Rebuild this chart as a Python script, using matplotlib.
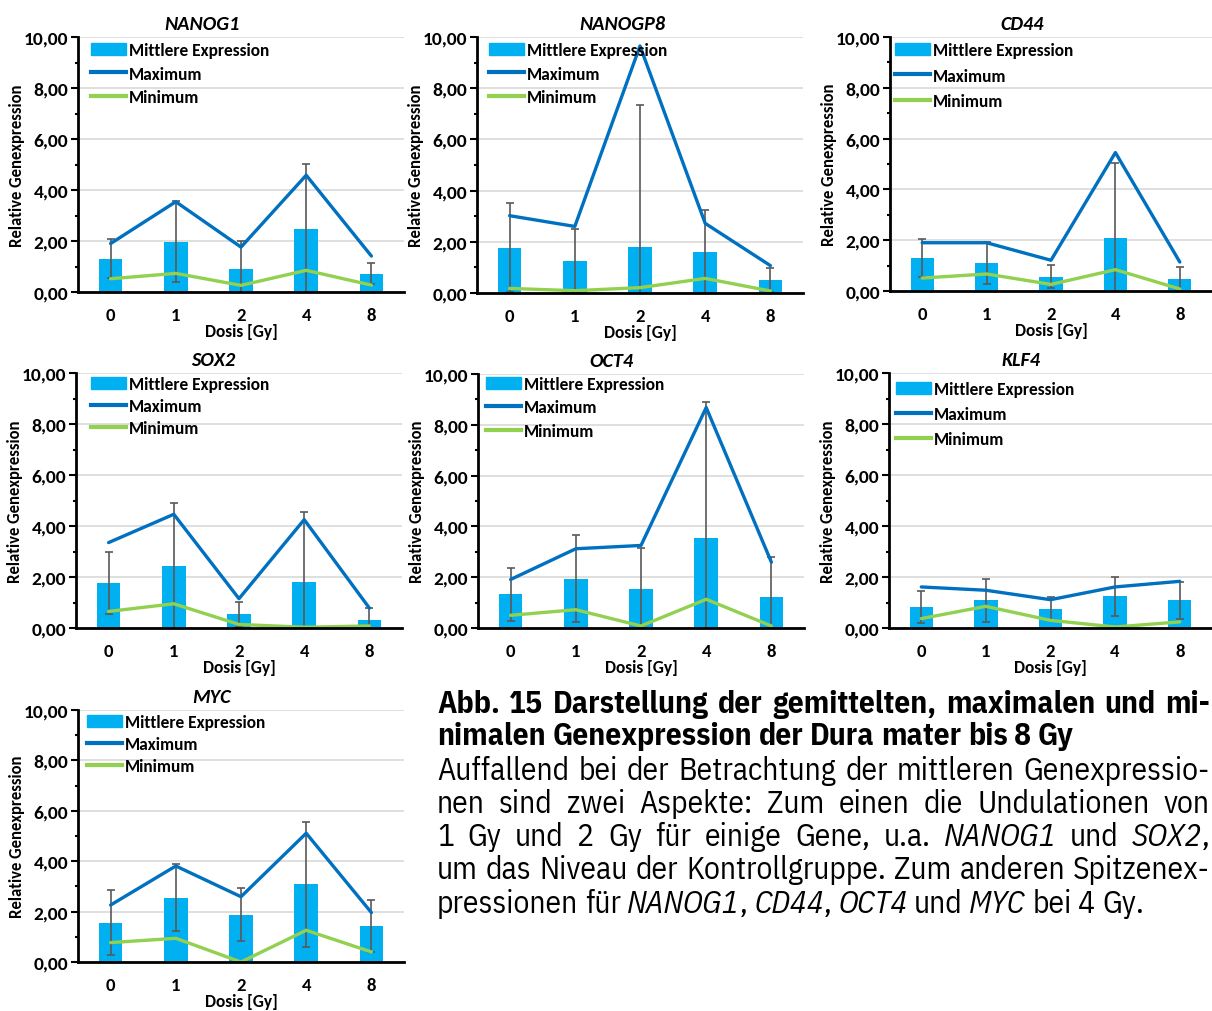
import numpy as np
import matplotlib.pyplot as plt
from matplotlib import font_manager as fm
from matplotlib.ticker import MultipleLocator, FuncFormatter
from matplotlib.patches import Patch
from matplotlib.lines import Line2D

doses = ['0', '1', '2', '4', '8']
genes = ['NANOG1', 'NANOGP8', 'CD44', 'SOX2', 'OCT4', 'KLF4', 'MYC']

# one row per gene, columns = doses
mean_expr = [
    [1.31, 1.97, 0.92, 2.46, 0.72],
    [1.76, 1.25, 1.79, 1.59, 0.49],
    [1.30, 1.10, 0.56, 2.10, 0.46],
    [1.76, 2.43, 0.54, 1.80, 0.33],
    [1.32, 1.94, 1.52, 3.56, 1.22],
    [0.82, 1.08, 0.76, 1.25, 1.08],
    [1.56, 2.55, 1.88, 3.08, 1.43],
]
sd_expr = [
    [0.76, 1.58, 1.08, 2.57, 0.41],
    [1.74, 1.25, 5.54, 1.65, 0.47],
    [0.76, 0.81, 0.45, 2.94, 0.50],
    [1.22, 2.46, 0.49, 2.75, 0.45],
    [1.05, 1.72, 1.62, 5.34, 1.58],
    [0.62, 0.85, 0.44, 0.76, 0.71],
    [1.28, 1.33, 1.04, 2.48, 1.03],
]
max_expr = [
    [1.90, 3.54, 1.76, 4.58, 1.41],
    [3.02, 2.60, 9.65, 2.72, 1.07],
    [1.90, 1.90, 1.21, 5.45, 1.14],
    [3.35, 4.46, 1.15, 4.25, 0.78],
    [1.91, 3.12, 3.25, 8.68, 2.59],
    [1.61, 1.48, 1.11, 1.61, 1.83],
    [2.26, 3.81, 2.59, 5.11, 1.96],
]
min_expr = [
    [0.52, 0.73, 0.26, 0.85, 0.27],
    [0.18, 0.09, 0.21, 0.57, 0.08],
    [0.51, 0.67, 0.26, 0.84, 0.08],
    [0.65, 0.95, 0.14, 0.03, 0.08],
    [0.50, 0.72, 0.08, 1.13, 0.08],
    [0.37, 0.85, 0.30, 0.04, 0.24],
    [0.77, 0.94, 0.00, 1.26, 0.40],
]

caption_head = [
    "Abb. 15 Darstellung der gemittelten, maximalen und mi-",
    "nimalen Genexpression der Dura mater bis 8 Gy",
]
caption_body = [
    "Auffallend bei der Betrachtung der mittleren Genexpressio-",
    "nen sind zwei Aspekte: Zum einen die Undulationen von",
    "1 Gy und 2 Gy für einige Gene, u.a. *NANOG1* und *SOX2*,",
    "um das Niveau der Kontrollgruppe. Zum anderen Spitzenex-",
    "pressionen für *NANOG1*, *CD44*, *OCT4* und *MYC* bei 4 Gy.",
]


# --- font choice: use what is installed ---
def faces(name):
    out = set()
    for f in fm.fontManager.ttflist:
        if f.name == name:
            w = f.weight if isinstance(f.weight, int) else fm.weight_dict.get(f.weight, 400)
            out.add((w >= 600, f.style == 'italic'))
    return out


def pick(cands, need):
    for c in cands:
        if set(need) <= faces(c):
            return c
    return None


chart_font = (pick(['Carlito', 'Calibri', 'Lato', 'Open Sans', 'Noto Sans'], [(True, False), (True, True)])
              or 'DejaVu Sans')
cap_font = (pick(['Liberation Sans Narrow', 'Arial Narrow', 'Archivo Narrow', 'IBM Plex Sans Condensed',
                  'Roboto Condensed'], [(False, False), (True, False), (False, True)])
            or pick(['PT Sans Narrow', 'Pragati Narrow'], [(False, False), (True, False)])
            or 'Liberation Sans')

plt.rcParams['font.family'] = [chart_font, 'DejaVu Sans']
plt.rcParams['font.weight'] = 'bold'
plt.rcParams['axes.labelweight'] = 'bold'

W, H = 1212, 1012
fig = plt.figure(figsize=(W / 100, H / 100), dpi=100)
renderer = fig.canvas.get_renderer()

# axes boxes in pixels: left, top, right, bottom
boxes = [(78, 38, 404, 293), (477, 38, 803, 294), (890, 38, 1212, 292),
         (76, 374, 402, 629), (478, 375, 804, 629), (889, 374, 1212, 629),
         (78, 711, 404, 963)]
title_x = [0.38, 0.445, 0.41, 0.42, 0.41, 0.41, 0.41]
leg_dx = [13, 12, 5, 15, 8, 7, 9]
leg_first = [51, 51, 51, 385, 385, 390, 723]
leg_pitch = [23.5, 23.5, 25.5, 22, 23.5, 25, 22]

c_bar, c_max, c_min, c_err = '#00B0F0', '#0070C0', '#92D050', '#595959'
leg_fs = 12.5
leg_px = leg_fs * 100 / 72
probe = fig.text(0, 0, 'Mittlere Expression', fontsize=leg_fs)
row_h = probe.get_window_extent(renderer).height
probe.remove()

for i, g in enumerate(genes):
    l, t, r, b = boxes[i]
    axw, axh = r - l, b - t
    ax = fig.add_axes([l / W, 1 - b / H, axw / W, axh / H])
    x = np.arange(len(doses))
    ax.bar(x, mean_expr[i], width=0.36, color=c_bar, zorder=2)
    ax.errorbar(x, mean_expr[i], yerr=sd_expr[i], fmt='none', ecolor=c_err,
                elinewidth=1.2, capsize=3, capthick=1.2, zorder=3)
    ax.plot(x, max_expr[i], color=c_max, lw=2.4, zorder=4,
            solid_joinstyle='round', solid_capstyle='round')
    ax.plot(x, min_expr[i], color=c_min, lw=2.4, zorder=4,
            solid_joinstyle='round', solid_capstyle='round')

    ax.set_xlim(-0.5, 4.5)
    ax.set_ylim(0, 10)
    ax.set_xticks(x)
    ax.set_xticklabels(doses)
    ax.yaxis.set_major_locator(MultipleLocator(2))
    ax.yaxis.set_minor_locator(MultipleLocator(1))
    ax.yaxis.set_major_formatter(FuncFormatter(lambda v, p: f"{v:.2f}".replace('.', ',')))
    ax.tick_params(axis='x', length=0, pad=11, labelsize=13.5)
    ax.tick_params(axis='y', which='major', length=5, width=1.5, pad=2, labelsize=14)
    ax.tick_params(axis='y', which='minor', length=2.5, width=1.5)
    ax.grid(axis='y', color='#D9D9D9', lw=1.2, zorder=0)
    ax.set_axisbelow(True)
    for s in ['top', 'right']:
        ax.spines[s].set_visible(False)
    for s in ['left', 'bottom']:
        ax.spines[s].set_linewidth(2)
        ax.spines[s].set_zorder(5)

    ax.set_title(g, fontsize=14.5, fontweight='bold', fontstyle='italic', x=title_x[i], pad=6)
    ax.set_xlabel('Dosis [Gy]', fontsize=12.5)
    ax.set_ylabel('Relative Genexpression', fontsize=12)
    ax.xaxis.set_label_coords(0.5, -31 / axh)
    ax.yaxis.set_label_coords(-53 / axw, 0.5)

    handles = [Patch(color=c_bar), Line2D([], [], color=c_max, lw=3),
               Line2D([], [], color=c_min, lw=3)]
    top_px = leg_first[i] - row_h / 2 - t
    ax.legend(handles, ['Mittlere Expression', 'Maximum', 'Minimum'],
              loc='upper left', bbox_to_anchor=(leg_dx[i] / axw, 1 - top_px / axh),
              frameon=False, fontsize=leg_fs, handlelength=2.0, handletextpad=0.2,
              labelspacing=(leg_pitch[i] - row_h) / leg_px, borderpad=0, borderaxespad=0)

# caption text with justified lines
X0, X1 = 437, 1210


def seg_width(s, size, weight, style):
    tt = fig.text(0, 0, s, fontsize=size, family=cap_font, fontweight=weight, fontstyle=style)
    w = tt.get_window_extent(renderer).width
    tt.remove()
    return w


def split_words(line):
    words = []
    for wd in line.split(' '):
        parts = wd.split('*')
        words.append([(p, 'italic' if k % 2 else 'normal') for k, p in enumerate(parts) if p])
    return words


def natural_width(line, size, weight):
    words = split_words(line)
    space = seg_width('a a', size, weight, 'normal') - seg_width('aa', size, weight, 'normal')
    return sum(seg_width(p, size, weight, st) for w in words for p, st in w) + space * (len(words) - 1)


def draw_line(line, y_px, justify, size, weight):
    words = split_words(line)
    widths = [sum(seg_width(p, size, weight, st) for p, st in w) for w in words]
    space = seg_width('a a', size, weight, 'normal') - seg_width('aa', size, weight, 'normal')
    gap = (X1 - X0 - sum(widths)) / (len(words) - 1) if justify else space
    xp = X0
    for w in words:
        for p, st in w:
            fig.text(xp / W, 1 - y_px / H, p, fontsize=size, family=cap_font,
                     fontweight=weight, fontstyle=st, ha='left', va='baseline')
            xp += seg_width(p, size, weight, st)
        xp += gap


# size so the last line is as wide as in the reference, and justified lines still fit
base = 20.0
cap_size = base * 760 / natural_width(caption_body[-1], base, 'normal')
fits = [natural_width(caption_head[0], base, 'bold')] + [natural_width(s, base, 'normal') for s in caption_body[:-1]]
cap_size = min(cap_size, base * (X1 - X0) * 0.99 / max(fits))

head_y = [713, 745]
body_y = [780, 813, 846, 879, 913]
for k, line in enumerate(caption_head):
    draw_line(line, head_y[k], k < len(caption_head) - 1, cap_size, 'bold')
for k, line in enumerate(caption_body):
    draw_line(line, body_y[k], k < len(caption_body) - 1, cap_size, 'normal')

fig.savefig('out.png', dpi=100)
